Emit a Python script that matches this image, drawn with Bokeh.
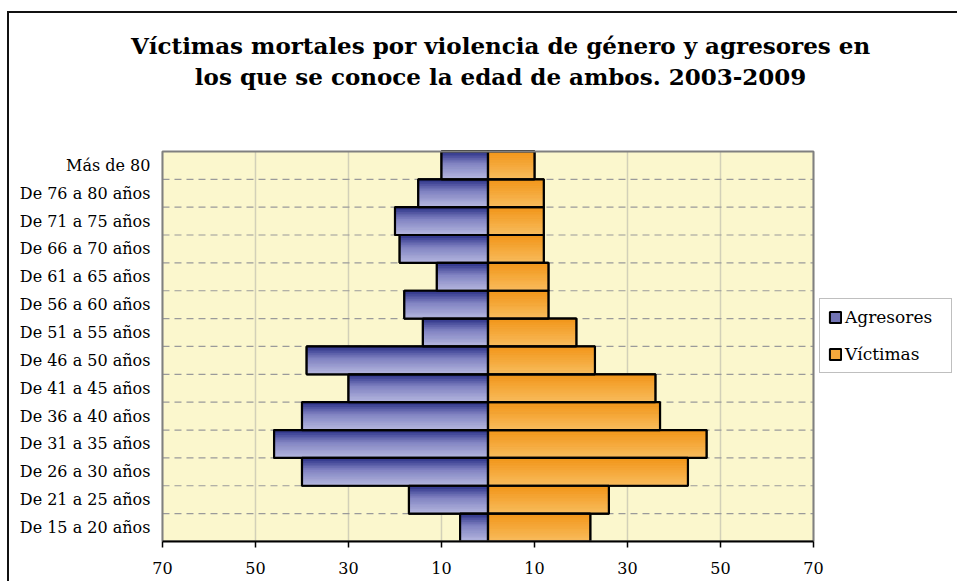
from bokeh.plotting import figure
from bokeh.models import (ColumnDataSource, Range1d, FixedTicker, Label, Legend, LegendItem)
from bokeh.core.properties import value
from bokeh.embed import file_html
from bokeh.resources import INLINE

# ---------------- data ----------------
categories = ["De 15 a 20 años", "De 21 a 25 años", "De 26 a 30 años", "De 31 a 35 años",
              "De 36 a 40 años", "De 41 a 45 años", "De 46 a 50 años", "De 51 a 55 años",
              "De 56 a 60 años", "De 61 a 65 años", "De 66 a 70 años", "De 71 a 75 años",
              "De 76 a 80 años", "Más de 80"]
agresores = [6, 17, 40, 46, 40, 30, 39, 14, 18, 11, 19, 20, 15, 10]
victimas = [22, 26, 43, 47, 37, 36, 23, 19, 13, 13, 12, 12, 12, 10]
x_ticks = [-70, -50, -30, -10, 10, 30, 50, 70]
title_lines = ["Víctimas mortales por violencia de género y agresores en",
               "los que se conoce la edad de ambos. 2003-2009"]
series_names = ["Agresores", "Víctimas"]

# ---------------- style / layout ----------------
FONT = "DejaVu Serif"
BLUE_STOPS = [(0.0, (44, 50, 136)), (0.45, (130, 132, 195)), (1.0, (180, 182, 222))]
ORANGE_STOPS = [(0.0, (242, 150, 26)), (1.0, (248, 188, 92))]
BLUE_MID = "#7274b4"
ORANGE_MID = "#f5a83c"
PLOT_BG = "#fbf7cd"
K = 16
XMIN, XMAX = x_ticks[0], x_ticks[-1]
N = len(categories)
YMIN, YMAX = -0.5, N - 0.5
VIEW_X = (-102.9, 100.97)     # room on the left for category labels, right for the legend
VIEW_Y = (-0.5, 18.45)        # room on top for the title
LABEL_X = -72.6
TITLE_X = 2.7
TITLE_Y = [17.3, 16.19]


def interp(stops, t):
    for (t0, c0), (t1, c1) in zip(stops[:-1], stops[1:]):
        if t <= t1:
            f = (t - t0) / (t1 - t0) if t1 > t0 else 0
            return "#%02x%02x%02x" % tuple(int(round(a + (b - a) * f)) for a, b in zip(c0, c1))
    return "#%02x%02x%02x" % stops[-1][1]


def gradient_source(vals, sign, stops):
    ys, lefts, rights, cols = [], [], [], []
    for i, v in enumerate(vals):
        for k in range(K):
            ys.append(i + 0.5 - (k + 0.5) / K)
            if sign < 0:
                lefts.append(-v); rights.append(0)
            else:
                lefts.append(0); rights.append(v)
            cols.append(interp(stops, k / (K - 1)))
    return ColumnDataSource(dict(y=ys, left=lefts, right=rights, color=cols))


pos = list(range(N))
base = ColumnDataSource(dict(y=pos,
                             a_left=[-v for v in agresores], a_right=[0] * N,
                             v_left=[0] * N, v_right=victimas))

p = figure(width=950, height=570, output_backend="svg", toolbar_location=None,
           x_range=Range1d(*VIEW_X), y_range=Range1d(*VIEW_Y),
           min_border_left=0, min_border_right=2, min_border_top=0, min_border_bottom=42,
           title=None, background_fill_color="white", border_fill_color="white",
           outline_line_color=None)
p.styles = {"border-left": "2px solid #111", "border-top": "2px solid #111",
            "margin-top": "11px", "margin-left": "7px"}
p.grid.visible = False
p.yaxis.visible = False

# plot area background
p.quad(left=[XMIN], right=[XMAX], bottom=[YMIN], top=[YMAX],
       fill_color=PLOT_BG, line_color=None)
# vertical grid lines
p.segment(x0=x_ticks, x1=x_ticks, y0=[YMIN] * len(x_ticks), y1=[YMAX] * len(x_ticks),
          line_color="#d2d0b8", line_width=1.5)
# dashed horizontal separators between categories
sep = [i + 0.5 for i in range(N - 1)]
p.segment(x0=[XMIN] * len(sep), x1=[XMAX] * len(sep), y0=sep, y1=sep,
          line_color="#9a9a9a", line_dash="7 5", line_width=1.2)

# base bars (used for legend swatches)
ra = p.hbar(y="y", left="a_left", right="a_right", height=1.0, source=base,
            fill_color=BLUE_MID, line_color="black", line_width=2)
rv = p.hbar(y="y", left="v_left", right="v_right", height=1.0, source=base,
            fill_color=ORANGE_MID, line_color="black", line_width=2)

# gradient slices
ga = gradient_source(agresores, -1, BLUE_STOPS)
gv = gradient_source(victimas, 1, ORANGE_STOPS)
p.hbar(y="y", left="left", right="right", height=1.0 / K, source=ga,
       fill_color="color", line_color="color", line_width=0.6)
p.hbar(y="y", left="left", right="right", height=1.0 / K, source=gv,
       fill_color="color", line_color="color", line_width=0.6)

# outlines
p.hbar(y="y", left="a_left", right="a_right", height=1.0, source=base,
       fill_color=None, line_color="black", line_width=2.2)
p.hbar(y="y", left="v_left", right="v_right", height=1.0, source=base,
       fill_color=None, line_color="black", line_width=2.2)

# plot area border
p.quad(left=[XMIN], right=[XMAX], bottom=[YMIN], top=[YMAX],
       fill_color=None, line_color="#808080", line_width=2)

# category labels
p.text(x=[LABEL_X] * N, y=pos, text=categories, text_align="right", text_baseline="middle",
       text_font=value(FONT), text_font_size="16px", text_color="black")

# x axis
p.xaxis.ticker = FixedTicker(ticks=x_ticks)
p.xaxis.bounds = (XMIN, XMAX)
p.xaxis.major_label_overrides = {t: str(abs(t)) for t in x_ticks}
p.xaxis.axis_line_color = "black"
p.xaxis.axis_line_width = 2
p.xaxis.major_tick_line_color = "black"
p.xaxis.major_tick_line_width = 1.5
p.xaxis.major_tick_out = 6
p.xaxis.major_tick_in = 0
p.xaxis.minor_tick_line_color = None
p.xaxis.major_label_standoff = 14
p.xaxis.major_label_text_font = FONT
p.xaxis.major_label_text_font_size = "16px"
p.xaxis.major_label_text_color = "black"

# title (two centred lines)
for txt, ty in zip(title_lines, TITLE_Y):
    p.add_layout(Label(x=TITLE_X, y=ty, text=txt, text_align="center", text_baseline="middle",
                       text_font=FONT, text_font_style="bold", text_font_size="23px",
                       text_color="black"))

# legend
legend = Legend(items=[LegendItem(label=series_names[0], renderers=[ra]),
                       LegendItem(label=series_names[1], renderers=[rv])],
                location=(810, 168), orientation="vertical",
                border_line_color="#808080", border_line_width=1.5,
                background_fill_color="white", background_fill_alpha=1,
                label_text_font=FONT, label_text_font_size="17px", label_text_color="black",
                glyph_width=14, glyph_height=14, label_height=20, label_standoff=3,
                spacing=17, padding=8, margin=0, label_width=98)
p.add_layout(legend, "center")

open("out.html", "w").write(file_html(p, INLINE))
